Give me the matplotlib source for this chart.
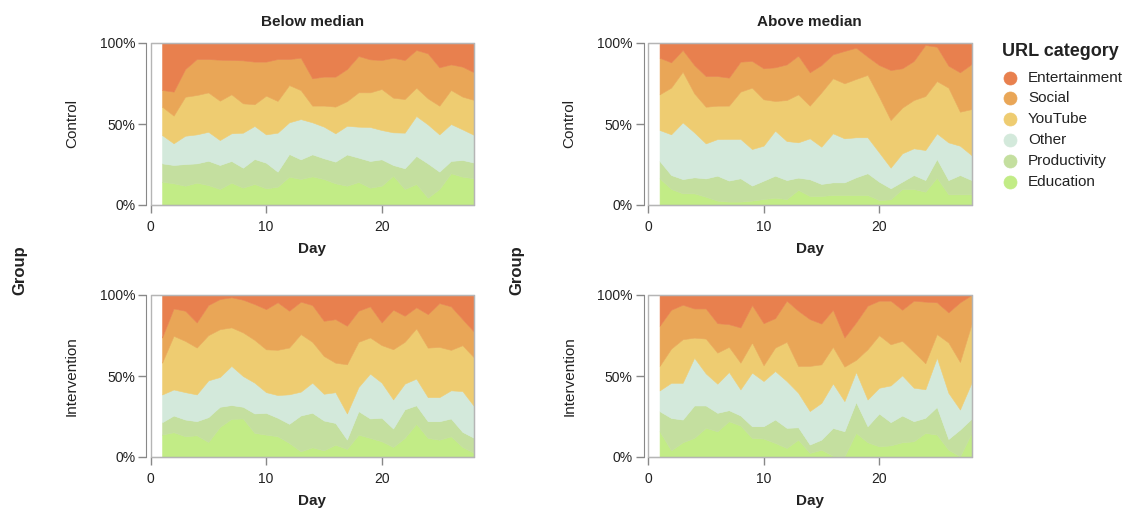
import matplotlib
matplotlib.use("Agg")
import matplotlib.pyplot as plt
from matplotlib.patches import Rectangle
import numpy as np

plt.rcParams['font.family'] = ['Liberation Sans', 'DejaVu Sans']

days = list(range(1, 29))
categories = ["Education", "Productivity", "Other", "YouTube", "Social", "Entertainment"]
colors = ["#c2ec86", "#c4df9f", "#d3e9db", "#eecc71", "#e9a657", "#e8804e"]
legend_order = ["Entertainment", "Social", "YouTube", "Other", "Productivity", "Education"]
columns = ["Below median", "Above median"]
rows = ["Control", "Intervention"]

# Share of browsing time (%) per URL category and day
below_control_education = [14.4, 13.4, 11.9, 13.8, 12.3, 9.9, 13.8, 10.7, 13.0, 10.3, 11.3, 17.5, 16.1, 17.7, 16.1, 13.4, 11.9, 14.2, 10.7, 11.9, 18.1, 9.9, 13.0, 4.5, 9.9, 19.6, 17.5, 16.5]
below_control_productivity = [11.3, 11.3, 13.4, 11.9, 15.0, 14.8, 13.4, 12.3, 15.4, 15.8, 9.3, 14.0, 12.1, 13.6, 12.8, 13.4, 19.3, 15.0, 16.5, 16.3, 6.6, 12.8, 17.3, 21.2, 10.7, 7.6, 10.3, 9.7]
below_control_other = [17.5, 13.4, 17.5, 17.9, 17.9, 15.4, 17.1, 21.6, 20.4, 17.5, 24.1, 19.6, 24.9, 19.8, 19.6, 17.5, 17.7, 19.1, 21.0, 18.1, 20.2, 22.0, 24.7, 24.1, 23.0, 22.8, 18.9, 17.1]
below_control_youtube = [17.5, 17.1, 24.1, 24.3, 24.3, 24.3, 24.1, 18.1, 13.4, 23.9, 19.6, 23.0, 17.9, 10.3, 13.0, 16.5, 15.2, 21.2, 21.4, 25.3, 21.4, 20.8, 17.5, 16.1, 17.7, 21.0, 20.2, 21.6]
below_control_social = [10.3, 14.8, 17.1, 22.2, 20.6, 25.3, 21.2, 26.5, 26.3, 21.0, 25.9, 16.1, 20.0, 16.9, 17.9, 18.5, 19.8, 22.4, 20.4, 17.9, 24.7, 24.1, 23.3, 27.8, 23.7, 15.8, 18.5, 17.1]
below_control_entertainment = [29.0, 30.0, 16.1, 9.9, 9.9, 10.3, 10.5, 10.7, 11.5, 11.5, 9.9, 9.9, 9.1, 21.8, 20.8, 20.8, 16.1, 8.0, 10.1, 10.5, 9.1, 10.5, 4.3, 6.4, 15.0, 13.2, 14.6, 18.1]

above_control_education = [16.5, 9.9, 7.2, 7.2, 5.1, 2.7, 2.1, 2.1, 2.7, 3.7, 4.5, 3.7, 9.3, 5.6, 5.6, 6.2, 6.2, 6.2, 6.2, 3.1, 3.5, 9.9, 9.9, 8.2, 16.9, 6.6, 6.6, 6.6]
above_control_productivity = [10.7, 8.6, 8.8, 9.9, 11.3, 15.4, 13.0, 14.4, 9.3, 11.3, 13.6, 11.7, 7.6, 10.3, 7.4, 7.8, 7.8, 10.9, 13.4, 11.3, 6.8, 4.5, 8.6, 7.2, 11.5, 8.8, 11.9, 8.8]
above_control_other = [19.1, 25.1, 35.0, 27.8, 21.6, 22.6, 25.7, 24.3, 22.6, 21.6, 27.8, 24.1, 21.8, 25.3, 23.0, 30.3, 27.2, 24.7, 22.2, 18.1, 12.8, 17.5, 16.5, 18.5, 15.8, 23.3, 18.1, 15.4]
above_control_youtube = [22.0, 28.8, 31.3, 24.1, 22.6, 20.6, 20.6, 29.2, 37.9, 28.6, 18.3, 25.3, 29.6, 20.2, 33.5, 34.0, 34.0, 36.0, 38.5, 34.4, 29.4, 28.2, 29.8, 33.3, 32.3, 33.8, 21.0, 28.4]
above_control_social = [22.6, 15.6, 13.4, 17.5, 18.9, 18.3, 17.3, 18.5, 16.5, 19.1, 20.8, 22.0, 23.9, 20.6, 16.9, 14.8, 20.0, 19.3, 11.3, 19.6, 30.9, 24.3, 24.1, 31.5, 21.2, 13.6, 24.3, 27.8]
above_control_entertainment = [9.1, 11.9, 4.3, 13.6, 20.4, 20.4, 21.4, 11.5, 11.1, 15.6, 15.0, 13.2, 7.8, 18.1, 13.6, 7.0, 4.9, 2.9, 8.4, 13.6, 16.7, 15.6, 11.1, 1.2, 2.3, 14.0, 18.1, 13.0]

below_intervention_education = [13.8, 15.3, 12.8, 13.4, 9.3, 18.6, 23.6, 23.8, 14.9, 13.8, 12.8, 8.7, 3.5, 6.0, 4.1, 7.6, 5.0, 13.8, 11.8, 9.7, 6.2, 11.8, 20.5, 11.8, 10.7, 12.8, 6.2, 2.5]
below_intervention_productivity = [7.6, 10.3, 10.3, 8.7, 15.3, 12.4, 8.5, 7.2, 12.0, 13.4, 11.4, 11.8, 22.1, 21.3, 18.4, 13.4, 5.8, 14.5, 12.0, 14.5, 11.4, 17.6, 11.4, 10.3, 11.4, 11.0, 9.3, 9.3]
below_intervention_other = [17.1, 16.1, 16.9, 16.5, 22.7, 18.4, 24.2, 19.0, 19.0, 12.8, 14.0, 18.2, 14.7, 18.6, 16.5, 19.0, 16.1, 14.9, 27.7, 21.7, 18.0, 15.9, 16.5, 14.9, 14.9, 17.4, 25.2, 19.6]
below_intervention_youtube = [19.6, 33.1, 31.6, 28.9, 27.9, 29.5, 23.8, 26.9, 26.4, 26.4, 27.9, 28.9, 35.5, 25.2, 23.3, 18.2, 30.4, 27.9, 22.3, 23.1, 31.0, 25.8, 31.0, 30.6, 31.0, 25.0, 28.3, 30.0]
below_intervention_social = [15.5, 16.9, 18.6, 15.5, 18.6, 18.6, 18.6, 20.2, 22.1, 24.8, 29.3, 22.7, 20.0, 22.7, 21.7, 26.9, 23.8, 19.2, 19.2, 14.0, 24.4, 16.1, 13.0, 20.7, 27.1, 26.9, 16.1, 15.9]
below_intervention_entertainment = [26.2, 8.3, 9.7, 16.9, 6.2, 2.5, 1.4, 2.9, 5.6, 8.7, 4.5, 9.7, 4.1, 6.2, 15.9, 14.9, 19.0, 9.7, 7.0, 16.9, 9.1, 12.8, 7.6, 11.8, 5.0, 7.0, 14.9, 22.7]

above_intervention_education = [15.9, 4.1, 9.1, 11.8, 18.0, 15.9, 22.1, 19.4, 11.8, 11.4, 8.7, 5.6, 10.7, 2.5, 4.5, 0.8, 0.4, 14.9, 9.1, 6.6, 7.2, 9.1, 9.7, 14.9, 13.8, 4.5, 0.4, 14.9]
above_intervention_productivity = [12.4, 20.0, 14.0, 20.0, 13.8, 11.4, 6.8, 6.2, 7.2, 7.6, 14.5, 12.4, 7.6, 5.2, 6.2, 17.1, 15.5, 19.0, 9.9, 20.2, 14.3, 16.5, 12.4, 9.3, 17.1, 6.6, 16.5, 8.7]
above_intervention_other = [12.8, 21.7, 22.7, 29.5, 19.8, 18.0, 23.6, 16.1, 33.1, 27.9, 30.0, 28.9, 21.3, 20.7, 22.7, 27.5, 18.6, 18.6, 16.5, 15.9, 22.7, 24.8, 20.7, 17.6, 30.4, 28.5, 12.4, 22.3]
above_intervention_youtube = [15.1, 21.1, 26.9, 12.4, 21.5, 19.2, 15.5, 16.5, 18.6, 9.7, 14.5, 24.2, 16.5, 27.9, 23.8, 22.5, 21.3, 7.4, 31.0, 32.4, 25.4, 21.3, 22.1, 16.1, 14.5, 31.0, 29.3, 36.2]
above_intervention_social = [24.8, 24.0, 21.3, 18.0, 18.6, 18.2, 14.0, 21.7, 23.1, 26.0, 18.2, 25.4, 34.1, 28.9, 25.2, 22.9, 18.0, 23.1, 26.9, 21.3, 26.9, 19.2, 31.6, 38.0, 19.6, 18.6, 36.8, 18.0]
above_intervention_entertainment = [19.0, 9.1, 6.0, 8.3, 8.3, 17.4, 18.0, 20.0, 6.2, 17.4, 14.3, 3.5, 9.7, 14.9, 17.6, 9.1, 26.2, 16.9, 6.6, 3.5, 3.5, 9.1, 3.5, 4.1, 4.5, 10.7, 4.5, 0.0]

panels = {
    ("Control", "Below median"): [below_control_education, below_control_productivity, below_control_other,
                                  below_control_youtube, below_control_social, below_control_entertainment],
    ("Control", "Above median"): [above_control_education, above_control_productivity, above_control_other,
                                  above_control_youtube, above_control_social, above_control_entertainment],
    ("Intervention", "Below median"): [below_intervention_education, below_intervention_productivity, below_intervention_other,
                                       below_intervention_youtube, below_intervention_social, below_intervention_entertainment],
    ("Intervention", "Above median"): [above_intervention_education, above_intervention_productivity, above_intervention_other,
                                       above_intervention_youtube, above_intervention_social, above_intervention_entertainment],
}

W, H = 1130, 508
fig = plt.figure(figsize=(W / 100, H / 100), dpi=100)

# panel boxes in pixels: left, top, width, height
col_left = [150.5, 648.0]
row_top = [43.0, 295.0]
pw, ph = 323.5, 162.0

axis_grey = "#888888"
frame_grey = "#b5b5b5"
text_col = "#222222"


def px_axes(left, top, w, h):
    return fig.add_axes([left / W, (H - top - h) / H, w / W, h / H])


for ri, row in enumerate(rows):
    for ci, col in enumerate(columns):
        ax = px_axes(col_left[ci], row_top[ri], pw, ph)
        vals = np.array(panels[(row, col)], dtype=float)
        shares = vals / vals.sum(axis=0)
        upper = np.cumsum(shares, axis=0)
        lower = np.vstack([np.zeros(len(days)), upper[:-1]])
        for k, c in enumerate(colors):
            ax.fill_between(days, lower[k], upper[k], facecolor=c, edgecolor=c, linewidth=0.4)
        ax.set_xlim(0, 28)
        ax.set_ylim(0, 1)
        ax.set_xticks([0, 10, 20])
        ax.set_yticks([0, 0.5, 1])
        ax.set_yticklabels(["0%", "50%", "100%"])
        for s in ("top", "right"):
            ax.spines[s].set_color(frame_grey)
        ax.spines["left"].set_color(axis_grey)
        ax.spines["bottom"].set_color(axis_grey)
        ax.spines["left"].set_position(("outward", 3))
        ax.add_patch(Rectangle((0, 0), 1, 1, transform=ax.transAxes, fill=False,
                               edgecolor=frame_grey, linewidth=1, zorder=5, clip_on=False))
        ax.tick_params(axis="both", color=axis_grey, length=6, width=1,
                       labelsize=10, labelcolor=text_col)
        ax.tick_params(axis="y", pad=2)
        ax.tick_params(axis="x", pad=5)
        ax.set_xlabel("Day", fontsize=11, fontweight="bold", color=text_col, labelpad=5.5)
        ax.set_ylabel(row, fontsize=11, color=text_col, labelpad=15)
        if ri == 0:
            ax.set_title(col, fontsize=11, fontweight="bold", color=text_col, pad=12)

# overlay in pixel coordinates for figure-level labels and the legend
ov = fig.add_axes([0, 0, 1, 1])
ov.set_xlim(0, W)
ov.set_ylim(H, 0)
ov.axis("off")

for gx in (20, 517):
    ov.text(gx, 270, "Group", rotation=90, ha="center", va="center",
            fontsize=12, fontweight="bold", color=text_col)

ov.text(1002, 51, "URL category", ha="left", va="center", fontsize=13,
        fontweight="bold", color=text_col)
color_of = dict(zip(categories, colors))
for i, name in enumerate(legend_order):
    y = 77.5 + i * 20.9
    ov.scatter([1010], [y], s=88, color=color_of[name], edgecolors=color_of[name], linewidths=0.5)
    ov.text(1028, y, name, ha="left", va="center", fontsize=11, color=text_col)

fig.savefig("out.png", dpi=100)
